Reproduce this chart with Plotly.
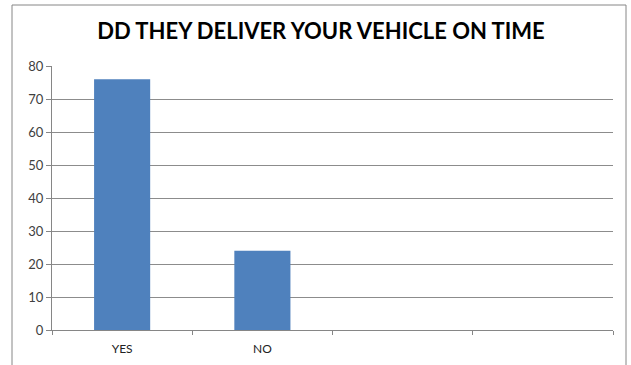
import plotly.graph_objects as go

categories = ["YES", "NO", " ", "  "]
values = [76, 24, None, None]
y_ticks = [0, 10, 20, 30, 40, 50, 60, 70, 80]
title_text = "DD THEY DELIVER YOUR VEHICLE ON TIME"

W, H = 631, 365
L, R, T, B = 52, 18, 66, 35
pw, ph = W - L - R, H - T - B

fig = go.Figure(go.Bar(x=categories, y=values, marker=dict(color="#4F81BD", line=dict(width=0))))

fig.update_layout(
    width=W, height=H,
    margin=dict(l=L, r=R, t=T, b=B, autoexpand=False),
    paper_bgcolor="white", plot_bgcolor="white",
    bargap=0.6,
    showlegend=False,
    title=dict(text="<b>" + title_text + "</b>", xref="paper", x=(321 - L) / pw, xanchor="center",
               y=1 - 31 / H, yanchor="middle",
               font=dict(family="Lato", size=22, color="black")),
    font=dict(family="Lato", color="#333333"),
    xaxis=dict(type="category", tickson="boundaries", ticks="outside", ticklen=4, tickcolor="#868686",
               showline=True, linecolor="#868686", linewidth=1, showgrid=False, ticklabelstandoff=8,
               tickfont=dict(family="Lato", size=12, color="#222222"), fixedrange=True),
    yaxis=dict(range=[0, 80], tickvals=y_ticks, ticks="outside", ticklen=5, tickcolor="#868686",
               showline=True, linecolor="#868686", linewidth=1, showgrid=True, gridcolor="#8c8c8c", gridwidth=1,
               zeroline=False, tickfont=dict(family="Lato", size=13, color="#404040"), fixedrange=True),
    shapes=[dict(type="rect", xref="paper", yref="paper",
                 x0=(12 - L) / pw, x1=(626 - L) / pw,
                 y0=(H - B - 375) / ph, y1=(H - B - 5) / ph,
                 line=dict(color="#868686", width=1), fillcolor="rgba(0,0,0,0)", layer="below")],
)

fig.write_html("out.html", config={"displayModeBar": False},
               post_script="document.body.style.margin='0px';")
